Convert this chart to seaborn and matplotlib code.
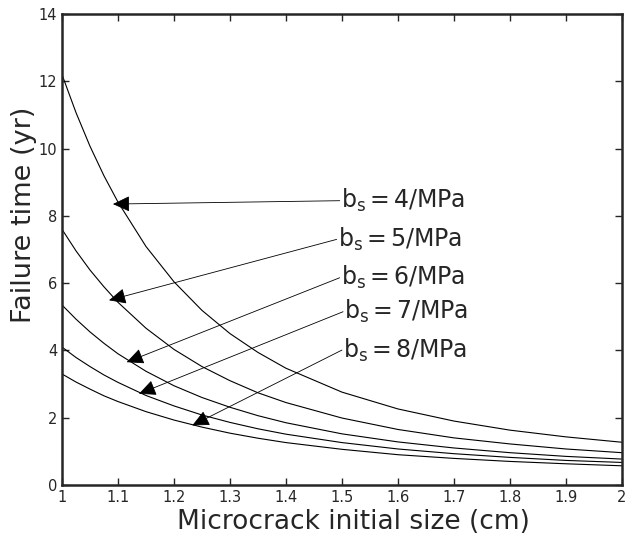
import numpy as np
import pandas as pd
import matplotlib
matplotlib.use("Agg")
import matplotlib.pyplot as plt
import seaborn as sns

# crack size (cm)
size = [1.0, 1.025, 1.05, 1.075, 1.1, 1.15, 1.2, 1.25, 1.3, 1.35, 1.4, 1.5, 1.6, 1.7, 1.8, 1.9, 2.0]

# failure time (yr) for each b_s value
t_b4 = [12.2, 11.07, 10.07, 9.19, 8.41, 7.09, 6.04, 5.19, 4.50, 3.94, 3.47, 2.76, 2.26, 1.90, 1.63, 1.43, 1.27]
t_b5 = [7.6, 6.96, 6.39, 5.89, 5.43, 4.66, 4.03, 3.52, 3.10, 2.74, 2.45, 1.99, 1.65, 1.40, 1.22, 1.07, 0.96]
t_b6 = [5.35, 4.93, 4.55, 4.21, 3.90, 3.38, 2.95, 2.60, 2.31, 2.06, 1.85, 1.52, 1.28, 1.10, 0.96, 0.85, 0.77]
t_b7 = [4.1, 3.79, 3.52, 3.27, 3.05, 2.66, 2.35, 2.08, 1.86, 1.67, 1.51, 1.26, 1.07, 0.93, 0.82, 0.73, 0.67]
t_b8 = [3.3, 3.06, 2.85, 2.65, 2.48, 2.18, 1.93, 1.72, 1.54, 1.39, 1.26, 1.06, 0.90, 0.79, 0.70, 0.63, 0.57]

bs = ["4", "5", "6", "7", "8"]

# label anchors and arrow tips
lab_x = [1.496, 1.4905, 1.496, 1.502, 1.50]
lab_y = [8.45, 7.30, 6.16, 5.15, 4.01]
tip_x = [1.091, 1.084, 1.1155, 1.1375, 1.2327]
tip_y = [8.35, 5.49, 3.65, 2.71, 1.77]

series = [t_b4, t_b5, t_b6, t_b7, t_b8]
df = pd.concat([
    pd.DataFrame({"size": size, "time": s, "bs": b}) for s, b in zip(series, bs)
])

sns.set_style("ticks")
plt.rcParams["font.family"] = ["DejaVu Sans"]

fig = plt.figure(figsize=(6.37, 5.44), dpi=100)
ax = fig.add_axes([0.0973, 0.1085, 0.879, 0.8658])

sns.lineplot(data=df, x="size", y="time", units="bs", estimator=None,
             color="black", lw=0.8, ax=ax, legend=False)

for b, lx, ly, tx, ty in zip(bs, lab_x, lab_y, tip_x, tip_y):
    ax.annotate("", xy=(tx, ty), xytext=(lx, ly),
                arrowprops=dict(arrowstyle="-|>,head_length=0.75,head_width=0.35",
                                color="black", lw=0.6, mutation_scale=14,
                                shrinkA=0, shrinkB=0))
    ax.text(lx + 0.002, ly, r"b$_{\mathregular{s}}$$\,$=$\,$" + b + "/MPa",
            fontsize=17, ha="left", va="center")

ax.set_xlim(1, 2)
ax.set_ylim(0, 14)
ax.set_xticks(np.arange(1, 2.01, 0.1))
ax.set_xticklabels(["1", "1.1", "1.2", "1.3", "1.4", "1.5", "1.6", "1.7", "1.8", "1.9", "2"])
ax.set_yticks(range(0, 15, 2))
ax.tick_params(direction="in", top=True, right=True, labelsize=10.5, length=5, width=1)
for sp in ax.spines.values():
    sp.set_linewidth(1.8)
    sp.set_visible(True)

ax.set_xlabel("")
ax.set_ylabel("")
fig.text(0.555, 0.040, "Microcrack initial size (cm)", fontsize=19, ha="center", va="center")
fig.text(0.037, 0.605, "Failure time (yr)", fontsize=19.5, rotation=90, ha="center", va="center")

fig.savefig("out.png", dpi=100)
